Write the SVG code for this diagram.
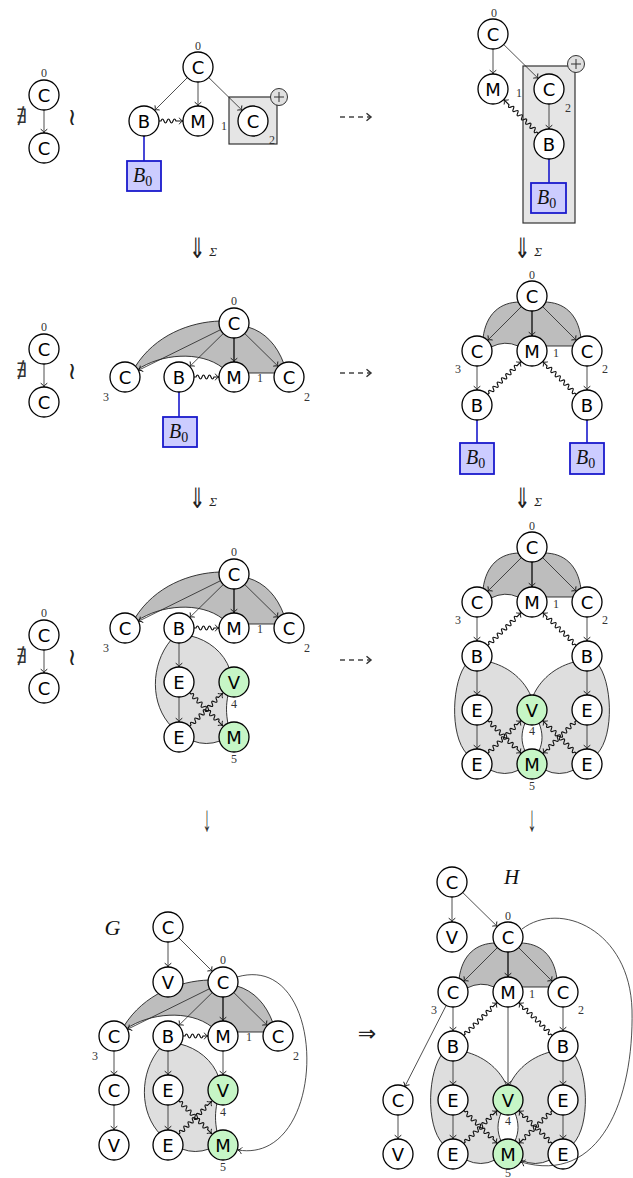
<svg xmlns="http://www.w3.org/2000/svg" xmlns:xlink="http://www.w3.org/1999/xlink" width="633" height="1178" viewBox="0 0 633 1178">
<defs>
<style>
.nd circle{fill:#fff;stroke:#000;stroke-width:1.3}
.nd.gr circle{fill:#c6f6c6}
.nd text{font-family:"DejaVu Sans",sans-serif;font-size:18px;text-anchor:middle;fill:#000}
.lb{font-family:"Liberation Serif","DejaVu Serif",serif;font-size:12px;fill:#333;text-anchor:middle}
.e{fill:none;stroke:#222;stroke-width:0.8;marker-end:url(#ah)}
.tk{stroke-width:1.5}
.sq{fill:none;stroke:#111;stroke-width:1.15;marker-end:url(#ah)}
.dk{fill:#bdbdbd;stroke:#222;stroke-width:0.9}
.lt{fill:#dedede;stroke:#222;stroke-width:0.9}
.box{fill:#e5e5e5;stroke:#333;stroke-width:1.2}
.b0 rect{fill:#ccccff;stroke:#1a1acc;stroke-width:1.8}
.b0 text{font-family:"Liberation Serif","DejaVu Serif",serif;font-size:20px;font-style:italic;fill:#111}
.bl{fill:none;stroke:#1a1acc;stroke-width:1.6}
.sym{font-family:"DejaVu Sans",sans-serif;text-anchor:middle;fill:#222}
.ser{font-family:"Liberation Serif","DejaVu Serif",serif;text-anchor:middle;fill:#333}
.sig{font-family:"Liberation Serif","DejaVu Serif",serif;font-size:13px;font-style:italic;text-anchor:middle;fill:#222}
.big{font-family:"Liberation Serif","DejaVu Serif",serif;font-style:italic;text-anchor:middle;fill:#111}
.dash{fill:none;stroke:#444;stroke-width:1.3;stroke-dasharray:5 4;marker-end:url(#ahd)}
.plus circle{fill:#e0e0e0;stroke:#333;stroke-width:1}
.plus path{fill:none;stroke:#333;stroke-width:1}
</style>
<marker id="ah" viewBox="-5 -4 6 8" refX="0" refY="0" markerWidth="6" markerHeight="8" markerUnits="userSpaceOnUse" orient="auto" overflow="visible">
<path d="M-3.8,-3.3C-2.6,-1.3 -1.2,-0.3 0,0C-1.2,0.3 -2.6,1.3 -3.8,3.3" fill="none" stroke="#111" stroke-width="0.9"/>
</marker>
<marker id="ahd" viewBox="-6 -5 7 10" refX="0" refY="0" markerWidth="7" markerHeight="10" markerUnits="userSpaceOnUse" orient="auto" overflow="visible">
<path d="M-4.5,-3.8L0,0L-4.5,3.8" fill="none" stroke="#333" stroke-width="1.5"/>
</marker>
<!-- snake-shaped connectors of several lengths, drawn along +x -->
<path id="s24" d="M0,0h2q1.5,-4 3,0t3,0t3,0t3,0t3,0L24,0"/>
<path id="s25" d="M0,0h2q1.5,-4 3,0t3,0t3,0t3,0t3,0t3,0L25,0"/>
<path id="s47" d="M0,0h2q1.5,-4 3,0t3,0t3,0t3,0t3,0t3,0t3,0t3,0t3,0t3,0t3,0t3,0t3,0L47,0"/>
<path id="s48" d="M0,0h2q1.5,-4 3,0t3,0t3,0t3,0t3,0t3,0t3,0t3,0t3,0t3,0t3,0t3,0t3,0L48.5,0"/>
</defs>
<rect width="633" height="1178" fill="#fff"/>

<!-- small two-node graph, repeated on the left of the first three rows -->
<g id="mini-1">
<text class="ser" x="22" y="123" style="font-size:20px">∄</text>
<text class="sym" x="72" y="125" style="font-size:24px">≀</text>
<g id="mini-1-edges"><path class="e" d="M44,110V133"/></g>
<g id="mini-1-c0" class="nd"><circle cx="44" cy="95" r="15"/><text x="44" y="101.5">C</text></g>
<g id="mini-1-c1" class="nd"><circle cx="44" cy="148" r="15"/><text x="44" y="154.5">C</text></g>
<text class="lb" x="44" y="77">0</text>
</g>
<g id="mini-2" transform="translate(0,254)">
<text class="ser" x="22" y="123" style="font-size:20px">∄</text>
<text class="sym" x="72" y="125" style="font-size:24px">≀</text>
<g id="mini-2-edges"><path class="e" d="M44,110V133"/></g>
<g id="mini-2-c0" class="nd"><circle cx="44" cy="95" r="15"/><text x="44" y="101.5">C</text></g>
<g id="mini-2-c1" class="nd"><circle cx="44" cy="148" r="15"/><text x="44" y="154.5">C</text></g>
<text class="lb" x="44" y="77">0</text>
</g>
<g id="mini-3" transform="translate(0,540)">
<text class="ser" x="22" y="123" style="font-size:20px">∄</text>
<text class="sym" x="72" y="125" style="font-size:24px">≀</text>
<g id="mini-3-edges"><path class="e" d="M44,110V133"/></g>
<g id="mini-3-c0" class="nd"><circle cx="44" cy="95" r="15"/><text x="44" y="101.5">C</text></g>
<g id="mini-3-c1" class="nd"><circle cx="44" cy="148" r="15"/><text x="44" y="154.5">C</text></g>
<text class="lb" x="44" y="77">0</text>
</g>

<!-- row 1, middle -->
<g id="p1">
<rect class="box" x="229" y="97" width="48" height="47"/>
<g id="p1-edges">
<path class="e" d="M187.4,77.6L154.6,110.4"/>
<path class="e" d="M198,82V106"/>
<path class="e" d="M208.7,77.5L242.3,110.5"/>
<use xlink:href="#s24" class="sq" transform="translate(159,121)"/>
<path class="bl" d="M144,136V161"/>
</g>
<g id="p1-c0" class="nd"><circle cx="198" cy="67" r="15"/><text x="198" y="73.5">C</text></g>
<g id="p1-b" class="nd"><circle cx="144" cy="121" r="15"/><text x="144" y="127.5">B</text></g>
<g id="p1-m" class="nd"><circle cx="198" cy="121" r="15"/><text x="198" y="127.5">M</text></g>
<g id="p1-c2" class="nd"><circle cx="253" cy="121" r="15"/><text x="253" y="127.5">C</text></g>
<g id="p1-b0" class="b0"><rect x="127" y="161" width="34" height="30"/><text x="133" y="182">B<tspan font-style="normal" style="font-size:14px" dy="4">0</tspan></text></g>
<g id="p1-plus" class="plus"><circle cx="279" cy="97" r="8.5"/><path d="M274,97h10M279,92v10"/></g>
<text class="lb" x="198" y="50">0</text>
<text class="lb" x="224" y="130">1</text>
<text class="lb" x="272" y="144">2</text>
</g>

<!-- row 1, right -->
<path class="dash" d="M340,117H371"/>
<g id="p2">
<rect class="box" x="523" y="66" width="52" height="157"/>
<g id="p2-edges">
<path class="e" d="M493,49V74"/>
<path class="e" d="M503.7,44.5L538.3,78.5"/>
<path class="e" d="M549,104V129"/>
<use xlink:href="#s48" class="sq" transform="translate(538.3,133.5) rotate(-135.5)"/>
<path class="bl" d="M549,159V183"/>
</g>
<g id="p2-c0" class="nd"><circle cx="493" cy="34" r="15"/><text x="493" y="40.5">C</text></g>
<g id="p2-m" class="nd"><circle cx="493" cy="89" r="15"/><text x="493" y="95.5">M</text></g>
<g id="p2-c2" class="nd"><circle cx="549" cy="89" r="15"/><text x="549" y="95.5">C</text></g>
<g id="p2-b" class="nd"><circle cx="549" cy="144" r="15"/><text x="549" y="150.5">B</text></g>
<g id="p2-b0" class="b0"><rect x="531" y="183" width="35" height="30"/><text x="537" y="204">B<tspan font-style="normal" style="font-size:14px" dy="4">0</tspan></text></g>
<g id="p2-plus" class="plus"><circle cx="576" cy="64" r="8.5"/><path d="M571,64h10M576,59v10"/></g>
<text class="lb" x="494" y="17">0</text>
<text class="lb" x="519" y="97">1</text>
<text class="lb" x="568" y="112">2</text>
</g>

<!-- rewrite steps between rows -->
<g id="step-1l"><text class="sym" transform="translate(197.5,258) scale(0.7,1)" style="font-size:28px">⇓</text><text class="sig" x="213" y="256">Σ</text></g>
<g id="step-1r"><text class="sym" transform="translate(522.5,258) scale(0.7,1)" style="font-size:28px">⇓</text><text class="sig" x="538" y="256">Σ</text></g>
<g id="step-2l"><text class="sym" transform="translate(197.5,508) scale(0.7,1)" style="font-size:28px">⇓</text><text class="sig" x="213" y="506">Σ</text></g>
<g id="step-2r"><text class="sym" transform="translate(522.5,508) scale(0.7,1)" style="font-size:28px">⇓</text><text class="sig" x="538" y="506">Σ</text></g>

<!-- row 2, middle -->
<g id="p3" transform="translate(0,-251)">
<path class="dk" d="M234,574L220,572C190,573 155,586 135,618L125,628L137,621C160,605 200,601 223,619L234,628L248,624L275,624L289,628L284,615C277,596 265,583 248,578Z"/>
<g id="p3-edges">
<path class="e" d="M220.6,580.7L138.4,621.3"/>
<path class="e" d="M223.3,584.5L189.7,617.5"/>
<path class="e tk" d="M234,589V613"/>
<path class="e" d="M244.7,584.5L278.3,617.5"/>
<use xlink:href="#s25" class="sq" transform="translate(194,628)"/>
<path class="bl" d="M179,643V668"/>
</g>
<g id="p3-c0" class="nd"><circle cx="234" cy="574" r="15"/><text x="234" y="580.5">C</text></g>
<g id="p3-c3" class="nd"><circle cx="125" cy="628" r="15"/><text x="125" y="634.5">C</text></g>
<g id="p3-b" class="nd"><circle cx="179" cy="628" r="15"/><text x="179" y="634.5">B</text></g>
<g id="p3-m" class="nd"><circle cx="234" cy="628" r="15"/><text x="234" y="634.5">M</text></g>
<g id="p3-c2" class="nd"><circle cx="289" cy="628" r="15"/><text x="289" y="634.5">C</text></g>
<g id="p3-b0" class="b0"><rect x="163" y="668" width="34" height="30"/><text x="169" y="689">B<tspan font-style="normal" style="font-size:14px" dy="4">0</tspan></text></g>
<text class="lb" x="234" y="556">0</text>
<text class="lb" x="106" y="652">3</text>
<text class="lb" x="307" y="652">2</text>
<text class="lb" x="260" y="633">1</text>
</g>

<!-- row 2, right -->
<path class="dash" d="M340,373H371"/>
<g id="p4" transform="translate(0,-251)">
<path class="dk" d="M532,547L520,553C500,553 486,565 483,589L477,602L491,598Q505,591 518,597L532,602L546,597L573,597L587,602L581,589C578,565 564,553 544,553Z"/>
<g id="p4-edges">
<path class="e" d="M521.4,557.6L487.6,591.4"/>
<path class="e tk" d="M532,562V587"/>
<path class="e" d="M542.6,557.6L576.4,591.4"/>
<path class="e" d="M477,617V641"/>
<path class="e" d="M587,617V641"/>
<use xlink:href="#s47" class="sq" transform="translate(487.7,645.5) rotate(-44.5)"/>
<use xlink:href="#s47" class="sq" transform="translate(576.3,645.5) rotate(-135.5)"/>
<path class="bl" d="M477,671V694"/>
<path class="bl" d="M587,671V694"/>
</g>
<g id="p4-c0" class="nd"><circle cx="532" cy="547" r="15"/><text x="532" y="553.5">C</text></g>
<g id="p4-c3" class="nd"><circle cx="477" cy="602" r="15"/><text x="477" y="608.5">C</text></g>
<g id="p4-m" class="nd"><circle cx="532" cy="602" r="15"/><text x="532" y="608.5">M</text></g>
<g id="p4-c2" class="nd"><circle cx="587" cy="602" r="15"/><text x="587" y="608.5">C</text></g>
<g id="p4-bl" class="nd"><circle cx="477" cy="656" r="15"/><text x="477" y="662.5">B</text></g>
<g id="p4-br" class="nd"><circle cx="587" cy="656" r="15"/><text x="587" y="662.5">B</text></g>
<g id="p4-b0l" class="b0"><rect x="460" y="694" width="34" height="31"/><text x="466" y="715">B<tspan font-style="normal" style="font-size:14px" dy="4">0</tspan></text></g>
<g id="p4-b0r" class="b0"><rect x="570" y="694" width="34" height="31"/><text x="576" y="715">B<tspan font-style="normal" style="font-size:14px" dy="4">0</tspan></text></g>
<text class="lb" x="532" y="530">0</text>
<text class="lb" x="458" y="624">3</text>
<text class="lb" x="605" y="624">2</text>
<text class="lb" x="556" y="608">1</text>
</g>

<!-- row 3, middle -->
<g id="p5">
<path class="dk" d="M234,574L220,572C190,573 155,586 135,618L125,628L137,621C160,605 200,601 223,619L234,628L248,624L275,624L289,628L284,615C277,596 265,583 248,578Z"/>
<path class="lt" d="M179,628L171,640C150,665 150,705 172,727L179,737L193,741Q206,746 220,741L234,737L228,724C226,713 226,705 228,695L234,682L230,670C224,652 208,640 191,636Z"/>
<g id="p5-edges">
<path class="e" d="M220.6,580.7L138.4,621.3"/>
<path class="e" d="M223.3,584.5L189.7,617.5"/>
<path class="e tk" d="M234,589V613"/>
<path class="e" d="M244.7,584.5L278.3,617.5"/>
<use xlink:href="#s25" class="sq" transform="translate(194,628)"/>
<path class="e" d="M179,643V667"/>
<path class="e" d="M179,697V722"/>
<use xlink:href="#s47" class="sq" transform="translate(189.6,692.6) rotate(45)"/>
<use xlink:href="#s47" class="sq" transform="translate(189.6,726.4) rotate(-45)"/>
</g>
<g id="p5-c0" class="nd"><circle cx="234" cy="574" r="15"/><text x="234" y="580.5">C</text></g>
<g id="p5-c3" class="nd"><circle cx="125" cy="628" r="15"/><text x="125" y="634.5">C</text></g>
<g id="p5-b" class="nd"><circle cx="179" cy="628" r="15"/><text x="179" y="634.5">B</text></g>
<g id="p5-m" class="nd"><circle cx="234" cy="628" r="15"/><text x="234" y="634.5">M</text></g>
<g id="p5-c2" class="nd"><circle cx="289" cy="628" r="15"/><text x="289" y="634.5">C</text></g>
<g id="p5-e1" class="nd"><circle cx="179" cy="682" r="15"/><text x="179" y="688.5">E</text></g>
<g id="p5-v" class="nd gr"><circle cx="234" cy="682" r="15"/><text x="234" y="688.5">V</text></g>
<g id="p5-e2" class="nd"><circle cx="179" cy="737" r="15"/><text x="179" y="743.5">E</text></g>
<g id="p5-m5" class="nd gr"><circle cx="234" cy="737" r="15"/><text x="234" y="743.5">M</text></g>
<text class="lb" x="234" y="556">0</text>
<text class="lb" x="106" y="652">3</text>
<text class="lb" x="307" y="652">2</text>
<text class="lb" x="260" y="633">1</text>
<text class="lb" x="234" y="708">4</text>
<text class="lb" x="234" y="763">5</text>
</g>

<!-- row 3, right -->
<path class="dash" d="M340,660H371"/>
<g id="p6">
<path class="dk" d="M532,547L520,553C500,553 486,565 483,589L477,602L491,598Q505,591 518,597L532,602L546,597L573,597L587,602L581,589C578,565 564,553 544,553Z"/>
<path class="lt" d="M477,656L467,663C452,680 449,735 467,754L477,764L490,770Q505,777 519,770L532,764L525,751C521,742 521,733 525,723L532,710L531,696C522,676 505,666 490,662Z"/>
<path class="lt" d="M587,656L597,663C612,680 615,735 597,754L587,764L574,770Q559,777 545,770L532,764L539,751C543,742 543,733 539,723L532,710L533,696C542,676 559,666 574,662Z"/>
<g id="p6-edges">
<path class="e" d="M521.4,557.6L487.6,591.4"/>
<path class="e tk" d="M532,562V587"/>
<path class="e" d="M542.6,557.6L576.4,591.4"/>
<path class="e" d="M477,617V641"/>
<path class="e" d="M587,617V641"/>
<use xlink:href="#s47" class="sq" transform="translate(487.7,645.5) rotate(-44.5)"/>
<use xlink:href="#s47" class="sq" transform="translate(576.3,645.5) rotate(-135.5)"/>
<path class="e" d="M477,671V695"/>
<path class="e" d="M587,671V695"/>
<path class="e" d="M477,725V749"/>
<path class="e" d="M587,725V749"/>
<use xlink:href="#s47" class="sq" transform="translate(487.7,720.5) rotate(44.5)"/>
<use xlink:href="#s47" class="sq" transform="translate(487.7,753.5) rotate(-44.5)"/>
<use xlink:href="#s47" class="sq" transform="translate(576.3,720.5) rotate(135.5)"/>
<use xlink:href="#s47" class="sq" transform="translate(576.3,753.5) rotate(-135.5)"/>
</g>
<g id="p6-c0" class="nd"><circle cx="532" cy="547" r="15"/><text x="532" y="553.5">C</text></g>
<g id="p6-c3" class="nd"><circle cx="477" cy="602" r="15"/><text x="477" y="608.5">C</text></g>
<g id="p6-m" class="nd"><circle cx="532" cy="602" r="15"/><text x="532" y="608.5">M</text></g>
<g id="p6-c2" class="nd"><circle cx="587" cy="602" r="15"/><text x="587" y="608.5">C</text></g>
<g id="p6-bl" class="nd"><circle cx="477" cy="656" r="15"/><text x="477" y="662.5">B</text></g>
<g id="p6-br" class="nd"><circle cx="587" cy="656" r="15"/><text x="587" y="662.5">B</text></g>
<g id="p6-el" class="nd"><circle cx="477" cy="710" r="15"/><text x="477" y="716.5">E</text></g>
<g id="p6-v" class="nd gr"><circle cx="532" cy="710" r="15"/><text x="532" y="716.5">V</text></g>
<g id="p6-er" class="nd"><circle cx="587" cy="710" r="15"/><text x="587" y="716.5">E</text></g>
<g id="p6-el2" class="nd"><circle cx="477" cy="764" r="15"/><text x="477" y="770.5">E</text></g>
<g id="p6-m5" class="nd gr"><circle cx="532" cy="764" r="15"/><text x="532" y="770.5">M</text></g>
<g id="p6-er2" class="nd"><circle cx="587" cy="764" r="15"/><text x="587" y="770.5">E</text></g>
<text class="lb" x="532" y="530">0</text>
<text class="lb" x="458" y="624">3</text>
<text class="lb" x="605" y="624">2</text>
<text class="lb" x="556" y="608">1</text>
<text class="lb" x="532" y="735">4</text>
<text class="lb" x="532" y="790">5</text>
</g>

<!-- arrows down to the last row -->
<text class="ser" transform="translate(207,831) scale(0.8,1.65)" style="font-size:22px">↓</text>
<text class="ser" transform="translate(532,831) scale(0.8,1.65)" style="font-size:22px">↓</text>
<text class="sym" x="367" y="1041" style="font-size:22px">⇒</text>

<!-- graph G -->
<g id="p7" transform="translate(-11,408)">
<path class="dk" d="M234,574L220,572C190,573 155,586 135,618L125,628L137,621C160,605 200,601 223,619L234,628L248,624L275,624L289,628L284,615C277,596 265,583 248,578Z"/>
<path class="lt" d="M179,628L171,640C150,665 150,705 172,727L179,737L193,741Q206,746 220,741L234,737L228,724C226,713 226,705 228,695L234,682L230,670C224,652 208,640 191,636Z"/>
<g id="p7-edges">
<path class="e" d="M220.6,580.7L138.4,621.3"/>
<path class="e" d="M223.3,584.5L189.7,617.5"/>
<path class="e tk" d="M234,589V613"/>
<path class="e" d="M244.7,584.5L278.3,617.5"/>
<use xlink:href="#s25" class="sq" transform="translate(194,628)"/>
<path class="e" d="M179,643V667"/>
<path class="e" d="M179,697V722"/>
<path class="e" d="M234,643V667"/>
<use xlink:href="#s47" class="sq" transform="translate(189.6,692.6) rotate(45)"/>
<use xlink:href="#s47" class="sq" transform="translate(189.6,726.4) rotate(-45)"/>
</g>
<g id="p7-c0" class="nd"><circle cx="234" cy="574" r="15"/><text x="234" y="580.5">C</text></g>
<g id="p7-c3" class="nd"><circle cx="125" cy="628" r="15"/><text x="125" y="634.5">C</text></g>
<g id="p7-b" class="nd"><circle cx="179" cy="628" r="15"/><text x="179" y="634.5">B</text></g>
<g id="p7-m" class="nd"><circle cx="234" cy="628" r="15"/><text x="234" y="634.5">M</text></g>
<g id="p7-c2" class="nd"><circle cx="289" cy="628" r="15"/><text x="289" y="634.5">C</text></g>
<g id="p7-e1" class="nd"><circle cx="179" cy="682" r="15"/><text x="179" y="688.5">E</text></g>
<g id="p7-v" class="nd gr"><circle cx="234" cy="682" r="15"/><text x="234" y="688.5">V</text></g>
<g id="p7-e2" class="nd"><circle cx="179" cy="737" r="15"/><text x="179" y="743.5">E</text></g>
<g id="p7-m5" class="nd gr"><circle cx="234" cy="737" r="15"/><text x="234" y="743.5">M</text></g>
<text class="lb" x="234" y="556">0</text>
<text class="lb" x="106" y="652">3</text>
<text class="lb" x="307" y="652">2</text>
<text class="lb" x="260" y="633">1</text>
<text class="lb" x="234" y="708">4</text>
<text class="lb" x="234" y="763">5</text>
</g>
<g id="g-extra">
<g id="g-extra-edges">
<path class="e" d="M168,942V967"/>
<path class="e" d="M178.6,937.6L212.4,971.4"/>
<path class="e" d="M114,1051V1075"/>
<path class="e" d="M114,1105V1130"/>
<path class="e" d="M237,977C330,950 330,1165 238,1150"/>
</g>
<g id="g-ct" class="nd"><circle cx="168" cy="927" r="15"/><text x="168" y="933.5">C</text></g>
<g id="g-vt" class="nd"><circle cx="168" cy="982" r="15"/><text x="168" y="988.5">V</text></g>
<g id="g-cl" class="nd"><circle cx="114" cy="1090" r="15"/><text x="114" y="1096.5">C</text></g>
<g id="g-vl" class="nd"><circle cx="114" cy="1145" r="15"/><text x="114" y="1151.5">V</text></g>
<text class="big" x="112.5" y="935" style="font-size:22px">G</text>
</g>

<!-- graph H -->
<g id="p8" transform="translate(-24,390)">
<path class="dk" d="M532,547L520,553C500,553 486,565 483,589L477,602L491,598Q505,591 518,597L532,602L546,597L573,597L587,602L581,589C578,565 564,553 544,553Z"/>
<path class="lt" d="M477,656L467,663C452,680 449,735 467,754L477,764L490,770Q505,777 519,770L532,764L525,751C521,742 521,733 525,723L532,710L531,696C522,676 505,666 490,662Z"/>
<path class="lt" d="M587,656L597,663C612,680 615,735 597,754L587,764L574,770Q559,777 545,770L532,764L539,751C543,742 543,733 539,723L532,710L533,696C542,676 559,666 574,662Z"/>
<g id="p8-edges">
<path class="e" d="M521.4,557.6L487.6,591.4"/>
<path class="e tk" d="M532,562V587"/>
<path class="e" d="M542.6,557.6L576.4,591.4"/>
<path class="e" d="M477,617V641"/>
<path class="e" d="M587,617V641"/>
<path class="e" d="M532,617V695"/>
<use xlink:href="#s47" class="sq" transform="translate(487.7,645.5) rotate(-44.5)"/>
<use xlink:href="#s47" class="sq" transform="translate(576.3,645.5) rotate(-135.5)"/>
<path class="e" d="M477,671V695"/>
<path class="e" d="M587,671V695"/>
<path class="e" d="M477,725V749"/>
<path class="e" d="M587,725V749"/>
<use xlink:href="#s47" class="sq" transform="translate(487.7,720.5) rotate(44.5)"/>
<use xlink:href="#s47" class="sq" transform="translate(487.7,753.5) rotate(-44.5)"/>
<use xlink:href="#s47" class="sq" transform="translate(576.3,720.5) rotate(135.5)"/>
<use xlink:href="#s47" class="sq" transform="translate(576.3,753.5) rotate(-135.5)"/>
</g>
<g id="p8-c0" class="nd"><circle cx="532" cy="547" r="15"/><text x="532" y="553.5">C</text></g>
<g id="p8-c3" class="nd"><circle cx="477" cy="602" r="15"/><text x="477" y="608.5">C</text></g>
<g id="p8-m" class="nd"><circle cx="532" cy="602" r="15"/><text x="532" y="608.5">M</text></g>
<g id="p8-c2" class="nd"><circle cx="587" cy="602" r="15"/><text x="587" y="608.5">C</text></g>
<g id="p8-bl" class="nd"><circle cx="477" cy="656" r="15"/><text x="477" y="662.5">B</text></g>
<g id="p8-br" class="nd"><circle cx="587" cy="656" r="15"/><text x="587" y="662.5">B</text></g>
<g id="p8-el" class="nd"><circle cx="477" cy="710" r="15"/><text x="477" y="716.5">E</text></g>
<g id="p8-v" class="nd gr"><circle cx="532" cy="710" r="15"/><text x="532" y="716.5">V</text></g>
<g id="p8-er" class="nd"><circle cx="587" cy="710" r="15"/><text x="587" y="716.5">E</text></g>
<g id="p8-el2" class="nd"><circle cx="477" cy="764" r="15"/><text x="477" y="770.5">E</text></g>
<g id="p8-m5" class="nd gr"><circle cx="532" cy="764" r="15"/><text x="532" y="770.5">M</text></g>
<g id="p8-er2" class="nd"><circle cx="587" cy="764" r="15"/><text x="587" y="770.5">E</text></g>
<text class="lb" x="532" y="530">0</text>
<text class="lb" x="458" y="624">3</text>
<text class="lb" x="605" y="624">2</text>
<text class="lb" x="556" y="608">1</text>
<text class="lb" x="532" y="735">4</text>
<text class="lb" x="532" y="787">5</text>
</g>
<g id="h-extra">
<g id="h-extra-edges">
<path class="e" d="M452,897V922"/>
<path class="e" d="M462.7,892.5L497.3,926.5"/>
<path class="e" d="M446.2,1005.4L404.8,1086.6"/>
<path class="e" d="M398,1115V1139"/>
<path class="e" d="M522,929C560,900 630,930 632,1010C634,1100 600,1185 521,1162"/>
</g>
<g id="h-ct" class="nd"><circle cx="452" cy="882" r="15"/><text x="452" y="888.5">C</text></g>
<g id="h-vt" class="nd"><circle cx="452" cy="937" r="15"/><text x="452" y="943.5">V</text></g>
<g id="h-cl" class="nd"><circle cx="398" cy="1100" r="15"/><text x="398" y="1106.5">C</text></g>
<g id="h-vl" class="nd"><circle cx="398" cy="1154" r="15"/><text x="398" y="1160.5">V</text></g>
<text class="big" x="511.5" y="884" style="font-size:21px">H</text>
</g>
</svg>
